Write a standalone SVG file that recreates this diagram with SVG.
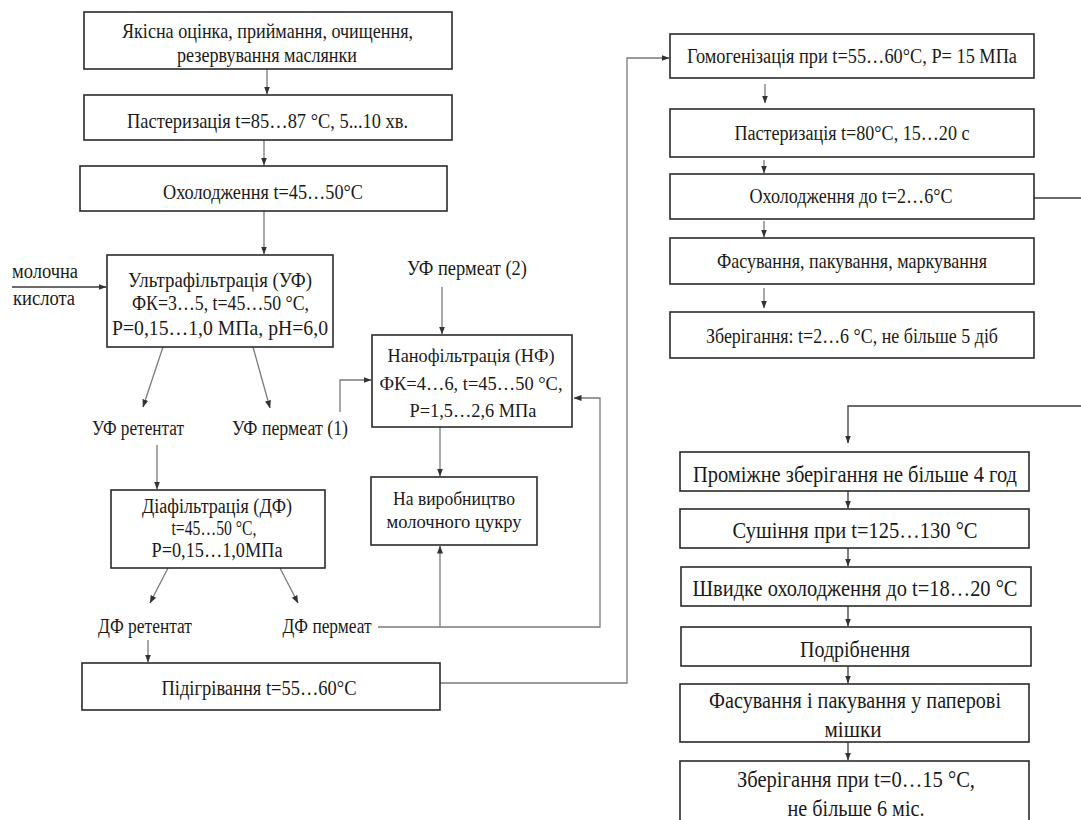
<svg xmlns="http://www.w3.org/2000/svg" width="1081" height="820" viewBox="0 0 1081 820" font-family="'Liberation Serif', 'Times New Roman', serif">
<style>
.box{fill:#fff;stroke:#2a2a2a;stroke-width:1.6}
.t{font-family:"Liberation Serif","Times New Roman",serif;fill:#1a1a1a;text-anchor:middle}
.c{fill:none;stroke:#7a7a7a;stroke-width:1.3}
.cd{fill:none;stroke:#3a3a3a;stroke-width:1.3}
</style>
<defs>
<marker id="a" markerUnits="userSpaceOnUse" markerWidth="8" markerHeight="8" viewBox="0 0 8 8" refX="7.5" refY="4" orient="auto">
<path d="M0,1 L8,4 L0,7 Z" fill="#333"/>
</marker>
</defs>
<rect width="1081" height="820" fill="#fff"/>

<g id="connectors">
<path class="c" d="M267,69 V94" marker-end="url(#a)"/>
<path class="c" d="M264,140 V165" marker-end="url(#a)"/>
<path class="c" d="M264,211 V254" marker-end="url(#a)"/>
<path class="cd" d="M12,287 H106" marker-end="url(#a)"/>
<path class="c" d="M163,347 L143,407" marker-end="url(#a)"/>
<path class="c" d="M253,347 L270,408" marker-end="url(#a)"/>
<path class="c" d="M340,412 V380 H371" marker-end="url(#a)"/>
<path class="c" d="M442,287 V334" marker-end="url(#a)"/>
<path class="c" d="M157,445 V489" marker-end="url(#a)"/>
<path class="c" d="M168,568 L150,603" marker-end="url(#a)"/>
<path class="c" d="M280,568 L298,603" marker-end="url(#a)"/>
<path class="c" d="M440,427 V476" marker-end="url(#a)"/>
<path class="c" d="M378,627 H600 V398 H574" marker-end="url(#a)"/>
<path class="c" d="M440,627 V546" marker-end="url(#a)"/>
<path class="c" d="M148,640 V662" marker-end="url(#a)"/>
<path class="c" d="M440,683 H627 V58 H669" marker-end="url(#a)"/>
<path class="c" d="M765,84 V103" marker-end="url(#a)"/>
<path class="c" d="M764,160 V173" marker-end="url(#a)"/>
<path class="c" d="M764,221 V237" marker-end="url(#a)"/>
<path class="c" d="M764,288 V308" marker-end="url(#a)"/>
<path class="cd" d="M1034,198 H1081"/>
<path class="cd" d="M1081,406 H848 V443" marker-end="url(#a)"/>
<path class="cd" d="M848,491 V508" marker-end="url(#a)"/>
<path class="cd" d="M848,548 V566" marker-end="url(#a)"/>
<path class="cd" d="M848,606 V626" marker-end="url(#a)"/>
<path class="cd" d="M848,666 V683" marker-end="url(#a)"/>
<path class="cd" d="M848,742 V760" marker-end="url(#a)"/>
</g>

<g id="n1"><rect class="box" x="84" y="12" width="368" height="57"/>
<text class="t" font-size="21" x="267.5" y="38" textLength="291" lengthAdjust="spacingAndGlyphs">Якісна оцінка, приймання,  очищення,</text>
<text class="t" font-size="21" x="267" y="62" textLength="180" lengthAdjust="spacingAndGlyphs">резервування маслянки</text></g>

<g id="n2"><rect class="box" x="84" y="95" width="368" height="45"/>
<text class="t" font-size="22" x="267.5" y="128" textLength="281" lengthAdjust="spacingAndGlyphs">Пастеризація t=85…87 °С, 5...10 хв.</text></g>

<g id="n3"><rect class="box" x="80" y="166" width="367" height="45"/>
<text class="t" font-size="22" x="263" y="199" textLength="200" lengthAdjust="spacingAndGlyphs">Охолодження t=45…50°C</text></g>

<g id="lactic"><text class="t" font-size="20" x="45" y="278" textLength="66" lengthAdjust="spacingAndGlyphs">молочна</text>
<text class="t" font-size="20" x="44" y="305" textLength="62" lengthAdjust="spacingAndGlyphs">кислота</text></g>

<g id="uf"><rect class="box" x="107" y="255" width="226" height="92"/>
<text class="t" font-size="21" x="220" y="287" textLength="184" lengthAdjust="spacingAndGlyphs">Ультрафільтрація (УФ)</text>
<text class="t" font-size="21" x="220.5" y="310" textLength="177" lengthAdjust="spacingAndGlyphs">ФК=3…5, t=45…50 °С,</text>
<text class="t" font-size="21" x="220" y="335" textLength="216" lengthAdjust="spacingAndGlyphs">Р=0,15…1,0 МПа, рН=6,0</text></g>

<g id="uf-ret"><text class="t" font-size="20" x="138" y="435" textLength="92" lengthAdjust="spacingAndGlyphs">УФ ретентат</text></g>
<g id="uf-perm1"><text class="t" font-size="20" x="290" y="435" textLength="116" lengthAdjust="spacingAndGlyphs">УФ пермеат (1)</text></g>
<g id="uf-perm2"><text class="t" font-size="20" x="467" y="275" textLength="120" lengthAdjust="spacingAndGlyphs">УФ пермеат (2)</text></g>

<g id="nf"><rect class="box" x="372" y="335" width="200" height="92"/>
<text class="t" font-size="19" x="471" y="362" textLength="167" lengthAdjust="spacingAndGlyphs">Нанофільтрація (НФ)</text>
<text class="t" font-size="19" x="471" y="390" textLength="183" lengthAdjust="spacingAndGlyphs">ФК=4…6, t=45…50 °С,</text>
<text class="t" font-size="19" x="473" y="417" textLength="127" lengthAdjust="spacingAndGlyphs">Р=1,5…2,6 МПа</text></g>

<g id="df"><rect class="box" x="111" y="490" width="214" height="78"/>
<text class="t" font-size="20" x="217" y="513" textLength="150" lengthAdjust="spacingAndGlyphs">Діафільтрація (ДФ)</text>
<text class="t" font-size="20" x="214" y="535" textLength="85" lengthAdjust="spacingAndGlyphs">t=45…50 °С,</text>
<text class="t" font-size="20" x="217" y="557" textLength="131" lengthAdjust="spacingAndGlyphs">Р=0,15…1,0МПа</text></g>

<g id="sugar"><rect class="box" x="371" y="477" width="166" height="68"/>
<text class="t" font-size="19" x="454" y="505" textLength="122" lengthAdjust="spacingAndGlyphs">На виробництво</text>
<text class="t" font-size="19" x="454" y="528" textLength="135" lengthAdjust="spacingAndGlyphs">молочного цукру</text></g>

<g id="df-ret"><text class="t" font-size="20" x="145" y="633" textLength="94" lengthAdjust="spacingAndGlyphs">ДФ ретентат</text></g>
<g id="df-perm"><text class="t" font-size="20" x="327" y="633" textLength="89" lengthAdjust="spacingAndGlyphs">ДФ пермеат</text></g>

<g id="heat"><rect class="box" x="82" y="663" width="358" height="47"/>
<text class="t" font-size="21" x="259" y="695" textLength="195" lengthAdjust="spacingAndGlyphs">Підігрівання t=55…60°C</text></g>

<g id="homog"><rect class="box" x="670" y="34" width="364" height="44"/>
<text class="t" font-size="20" x="852" y="63" textLength="330" lengthAdjust="spacingAndGlyphs">Гомогенізація при t=55…60°С, Р= 15 МПа</text></g>

<g id="past2"><rect class="box" x="670" y="109" width="364" height="48"/>
<text class="t" font-size="20" x="852" y="140" textLength="235" lengthAdjust="spacingAndGlyphs">Пастеризація t=80°С, 15…20 с</text></g>

<g id="cool2"><rect class="box" x="670" y="174" width="364" height="45"/>
<text class="t" font-size="21" x="851" y="203" textLength="203" lengthAdjust="spacingAndGlyphs">Охолодження до t=2…6°С</text></g>

<g id="pack1"><rect class="box" x="670" y="238" width="364" height="46"/>
<text class="t" font-size="21" x="852" y="268" textLength="270" lengthAdjust="spacingAndGlyphs">Фасування, пакування, маркування</text></g>

<g id="store1"><rect class="box" x="670" y="312" width="364" height="46"/>
<text class="t" font-size="22" x="852" y="343" textLength="292" lengthAdjust="spacingAndGlyphs">Зберігання: t=2…6 °С, не більше 5 діб</text></g>

<g id="interm"><rect class="box" x="680" y="452" width="349" height="39"/>
<text class="t" font-size="23" x="855" y="482" textLength="324" lengthAdjust="spacingAndGlyphs">Проміжне зберігання не більше 4 год</text></g>

<g id="dry"><rect class="box" x="680" y="509" width="349" height="39"/>
<text class="t" font-size="24" x="855" y="538" textLength="245" lengthAdjust="spacingAndGlyphs">Сушіння при t=125…130 °С</text></g>

<g id="fastcool"><rect class="box" x="681" y="567" width="350" height="39"/>
<text class="t" font-size="24" x="855" y="596" textLength="325" lengthAdjust="spacingAndGlyphs">Швидке охолодження до t=18…20 °С</text></g>

<g id="grind"><rect class="box" x="681" y="627" width="350" height="39"/>
<text class="t" font-size="24" x="855" y="657" textLength="110" lengthAdjust="spacingAndGlyphs">Подрібнення</text></g>

<g id="pack2"><rect class="box" x="680" y="684" width="349" height="58"/>
<text class="t" font-size="23" x="855" y="708" textLength="292" lengthAdjust="spacingAndGlyphs">Фасування і пакування у паперові</text>
<text class="t" font-size="23" x="853" y="737" textLength="57" lengthAdjust="spacingAndGlyphs">мішки</text></g>

<g id="store2"><rect class="box" x="680" y="761" width="349" height="75"/>
<text class="t" font-size="23" x="856" y="787" textLength="238" lengthAdjust="spacingAndGlyphs">Зберігання при t=0…15 °С,</text>
<text class="t" font-size="23" x="856" y="816" textLength="137" lengthAdjust="spacingAndGlyphs">не більше 6 міс.</text></g>
</svg>
